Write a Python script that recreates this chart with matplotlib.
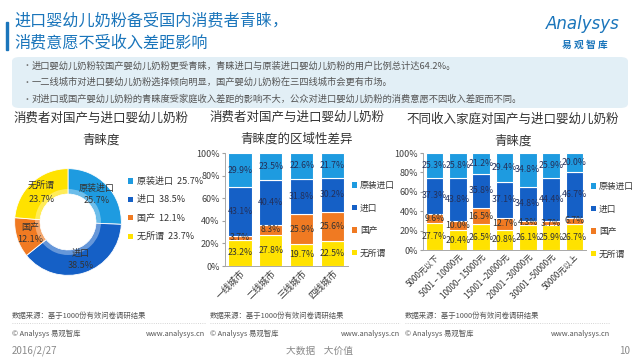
import math

import matplotlib
matplotlib.use("Agg")
import matplotlib.pyplot as plt
from matplotlib.patches import FancyBboxPatch, Rectangle, Patch
from matplotlib.lines import Line2D

plt.rcParams['font.family'] = ['Noto Sans CJK SC', 'DejaVu Sans']

# ---- data ----
segments = ["原装进口", "进口", "国产", "无所谓"]
pie_values = [25.7, 38.5, 12.1, 23.7]

cities = ["一线城市", "二线城市", "三线城市", "四线城市"]
city_yuanzhuang = [29.9, 23.5, 22.6, 21.7]
city_jinkou = [43.1, 40.4, 31.8, 30.2]
city_guochan = [3.7, 8.3, 25.9, 25.6]
city_wusuowei = [23.2, 27.8, 19.7, 22.5]

incomes = ["5000元以下", "5001 – 10000元", "10000– 15000元", "15001 –20000元",
           "20001 –30000元", "30001 –50000元", "50000元以上"]
inc_yuanzhuang = [25.3, 25.8, 21.2, 29.4, 34.8, 25.9, 20.0]
inc_jinkou = [37.3, 43.8, 35.8, 37.1, 34.8, 44.4, 46.7]
inc_guochan = [9.6, 10.0, 16.5, 12.7, 4.3, 3.7, 6.7]
inc_wusuowei = [27.7, 20.4, 26.5, 20.8, 26.1, 25.9, 26.7]

bullets = [
    "进口婴幼儿奶粉较国产婴幼儿奶粉更受青睐，青睐进口与原装进口婴幼儿奶粉的用户比例总计达64.2%。",
    "一二线城市对进口婴幼儿奶粉选择倾向明显，国产婴幼儿奶粉在三四线城市会更有市场。",
    "对进口或国产婴幼儿奶粉的青睐度受家庭收入差距的影响不大，公众对进口婴幼儿奶粉的消费意愿不因收入差距而不同。",
]

colors = {"原装进口": "#1E9BE0", "进口": "#1560C6", "国产": "#F07A22", "无所谓": "#FFE200"}
BLUE = "#1A75BB"
W, H = 640, 360


def fx(px):
    return px / W


def fy(py):
    return 1 - py / H


fig = plt.figure(figsize=(6.4, 3.6), dpi=100)
fig.patch.set_facecolor("white")

# ---- header ----
fig.add_artist(Rectangle((fx(6), fy(50)), 2 / W, 28 / H, color=BLUE, transform=fig.transFigure))
fig.text(fx(14), fy(21), "进口婴幼儿奶粉备受国内消费者青睐，", fontsize=11.6, color=BLUE, va="center")
fig.text(fx(14), fy(43), "消费意愿不受收入差距影响", fontsize=11.6, color=BLUE, va="center")
fig.text(fx(583), fy(24), "Analysys", fontsize=12, color=BLUE, style="italic",
         family="DejaVu Sans", ha="center", va="center")
fig.text(fx(585), fy(45), "易 观 智 库", fontsize=7, color=BLUE, weight="bold", ha="center", va="center")

box = FancyBboxPatch((fx(12), fy(108)), 616 / W, 51 / H,
                     boxstyle="round,pad=0,rounding_size=0.012",
                     transform=fig.transFigure, facecolor="#E2EFF6", edgecolor="none")
fig.add_artist(box)
for i, t in enumerate(bullets):
    y = 66 + i * 16.5
    fig.text(fx(22), fy(y), "•", fontsize=6.5, color="#707070", va="center")
    fig.text(fx(32), fy(y), t, fontsize=6.7, color="#555555", va="center")

# ---- donut ----
fig.text(fx(101), fy(118), "消费者对国产与进口婴幼儿奶粉", fontsize=9, color="#333333", ha="center", va="center")
fig.text(fx(101), fy(140), "青睐度", fontsize=9, color="#333333", ha="center", va="center")

axp = fig.add_axes([fx(13), fy(277), 110 / W, 110 / H])
axp.pie(pie_values, colors=[colors[s] for s in segments], startangle=90,
        counterclock=False, radius=0.97,
        wedgeprops=dict(width=0.46, edgecolor="white", linewidth=0.6))
axp.pie([1], colors=["white"], radius=0.6, wedgeprops=dict(width=0.08, alpha=0.35))
acc = 0
for s, v in zip(segments, pie_values):
    mid = 90 - (acc + v / 2) * 3.6
    acc += v
    r = 0.72
    x, y = r * math.cos(math.radians(mid)), r * math.sin(math.radians(mid))
    axp.text(x, y, f"{s}\n{v}%", fontsize=6.5, color="#333333", ha="center", va="center",
             linespacing=1.5)
axp.set_xlim(-1, 1)
axp.set_ylim(-1, 1)
axp.set_aspect("equal")
axp.axis("off")

handles = [Patch(facecolor=colors[s], label=f"{s}  {v}%") for s, v in zip(segments, pie_values)]
fig.legend(handles=handles, loc="upper left", bbox_to_anchor=(fx(128), fy(177)),
           frameon=False, fontsize=6.5, handlelength=0.55, handleheight=0.55,
           handletextpad=0.4, labelspacing=1.05, labelcolor="#333333",
           borderpad=0, borderaxespad=0)


def stacked(ax, cats, series, names, tick_fs):
    bottom = [0] * len(cats)
    xs = range(len(cats))
    for vals, name in zip(series, names):
        bars = ax.bar(xs, vals, bottom=bottom, width=0.75, color=colors[name],
                      edgecolor="white", linewidth=0.8)
        ax.bar_label(bars, labels=[f"{v}%" for v in vals], label_type="center",
                     fontsize=6.3, color="#23305A" if name in ("原装进口", "进口") else "#333333")
        bottom = [b + v for b, v in zip(bottom, vals)]
    ax.set_xlim(-0.5, len(cats) - 0.5)
    ax.set_ylim(0, 100)
    ax.set_yticks(range(0, 101, 20))
    ax.set_yticklabels([f"{t}%" for t in range(0, 101, 20)])
    ax.set_xticks(list(xs))
    ax.set_xticklabels(cats, rotation=45, ha="right", rotation_mode="anchor", fontsize=tick_fs,
                       color="#333333")
    ax.tick_params(axis="y", labelsize=6.5, labelcolor="#404040", length=2, color="#A0A0A0", pad=1.5)
    ax.tick_params(axis="x", length=0, pad=2)
    for sp in ("top", "right"):
        ax.spines[sp].set_visible(False)
    for sp in ("left", "bottom"):
        ax.spines[sp].set_color("#A8A8A8")
        ax.spines[sp].set_linewidth(0.7)


stack_names = ["无所谓", "国产", "进口", "原装进口"]
legend_handles = [Patch(facecolor=colors[s], label=s) for s in segments]
legend_kw = dict(loc="upper left", frameon=False, fontsize=6.3, handlelength=0.55,
                 handleheight=0.55, handletextpad=0.35, labelspacing=1.55,
                 labelcolor="#333333", borderpad=0, borderaxespad=0)

# ---- city chart ----
fig.text(fx(297), fy(117), "消费者对国产与进口婴幼儿奶粉", fontsize=9, color="#333333", ha="center", va="center")
fig.text(fx(297), fy(139), "青睐度的区域性差异", fontsize=9, color="#333333", ha="center", va="center")
axc = fig.add_axes([fx(224.5), fy(266), 123.5 / W, 113 / H])
stacked(axc, cities, [city_wusuowei, city_guochan, city_jinkou, city_yuanzhuang], stack_names, 6.5)
fig.legend(handles=legend_handles, bbox_to_anchor=(fx(352), fy(181)), **legend_kw)

# ---- income chart ----
fig.text(fx(513), fy(119), "不同收入家庭对国产与进口婴幼儿奶粉", fontsize=9, color="#333333", ha="center", va="center")
fig.text(fx(513), fy(141), "青睐度", fontsize=9, color="#333333", ha="center", va="center")
axi = fig.add_axes([fx(423), fy(250), 163 / W, 97 / H])
stacked(axi, incomes, [inc_wusuowei, inc_guochan, inc_jinkou, inc_yuanzhuang], stack_names, 5.8)
fig.legend(handles=legend_handles, bbox_to_anchor=(fx(591), fy(182)), **legend_kw)

# ---- footer ----
for x0, x1 in ((12, 205), (210, 400), (405, 610)):
    fig.text(fx(x0), fy(316), "数据来源：基于1000份有效问卷调研结果", fontsize=5.3, color="#555555", va="center")
    fig.add_artist(Line2D([fx(x0), fx(x1)], [fy(323), fy(323)], color="#C8C8C8", lw=0.6, ls=":",
                          transform=fig.transFigure))
    fig.text(fx(x0), fy(334), "© Analysys 易观智库", fontsize=5.3, color="#555555", va="center")
    fig.text(fx(x1), fy(334), "www.analysys.cn", fontsize=5.3, color="#555555", ha="right", va="center")
fig.text(fx(12), fy(351), "2016/2/27", fontsize=7, color="#8A8A8A", va="center")
fig.text(fx(320), fy(351), "大数据    大价值", fontsize=7, color="#8A8A8A", ha="center", va="center")
fig.text(fx(630), fy(351), "10", fontsize=7, color="#8A8A8A", ha="right", va="center")

fig.savefig("out.png", dpi=100)
